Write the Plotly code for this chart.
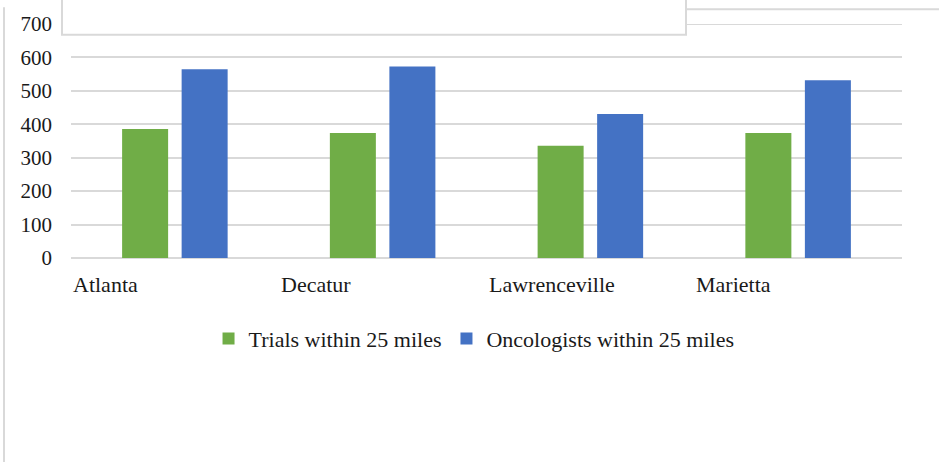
import plotly.graph_objects as go

categories = ["Atlanta", "Decatur", "Lawrenceville", "Marietta"]
trials = [386, 374, 336, 374]
oncologists = [565, 573, 431, 532]
series_names = ["Trials within 25 miles", "Oncologists within 25 miles"]
y_ticks = [0, 100, 200, 300, 400, 500, 600, 700]

W, H = 939, 462
ML, MR, MT, MB = 71, 37, 20, 204
PW, PH = W - ML - MR, H - MT - MB


def px(x):
    return (x - ML) / PW


def py(y):
    return (H - MB - y) / PH


FONT = "Liberation Serif, Times New Roman, DejaVu Serif, serif"
GRID = "#d9d9d9"
TXT = "#1a1a1a"

fig = go.Figure()
fig.add_trace(go.Bar(x=categories, y=trials, name=series_names[0],
                     marker=dict(color="#70ad47", line=dict(width=0))))
fig.add_trace(go.Bar(x=categories, y=oncologists, name=series_names[1],
                     marker=dict(color="#4472c4", line=dict(width=0))))

annotations = []
for i, c in enumerate(categories):
    annotations.append(dict(x=i - 0.5, y=py(285), xref="x", yref="paper",
                            text=c, showarrow=False, xanchor="left", yanchor="middle",
                            font=dict(family=FONT, size=22, color=TXT)))

shapes = [
    # top gridline at the axis maximum
    dict(type="line", xref="paper", yref="y", x0=0, x1=1, y0=y_ticks[-1], y1=y_ticks[-1],
         line=dict(color=GRID, width=2), layer="below"),
    dict(type="line", xref="paper", yref="paper", x0=px(4), x1=px(4), y0=py(3), y1=py(470),
         line=dict(color=GRID, width=2), layer="above"),
    dict(type="line", xref="paper", yref="paper", x0=px(686), x1=px(945), y0=py(5), y1=py(5),
         line=dict(color=GRID, width=2), layer="above"),
    dict(type="rect", xref="paper", yref="paper", x0=px(62), x1=px(686), y0=py(-10), y1=py(31),
         fillcolor="white", line=dict(color=GRID, width=2), layer="above"),
]

fig.update_layout(
    width=W, height=H,
    margin=dict(l=ML, r=MR, t=MT, b=MB, pad=0),
    paper_bgcolor="white", plot_bgcolor="white",
    barmode="group", bargap=0.427, bargroupgap=0.227,
    font=dict(family=FONT, size=21, color=TXT),
    showlegend=True,
    legend=dict(orientation="h", x=0.485, xanchor="center", y=py(340), yanchor="middle",
                font=dict(family=FONT, size=22, color=TXT),
                itemwidth=30, tracegroupgap=0, bgcolor="rgba(0,0,0,0)"),
    xaxis=dict(type="category", showticklabels=False, showgrid=False, zeroline=False,
               showline=False, ticks="", fixedrange=True),
    yaxis=dict(range=[0, 700], tickvals=y_ticks, showgrid=True, gridcolor=GRID, gridwidth=2,
               zeroline=True, zerolinecolor=GRID, zerolinewidth=2, showline=False, ticks="",
               ticklabelstandoff=18, tickfont=dict(family=FONT, size=21, color=TXT)),
    annotations=annotations,
    shapes=shapes,
)

fig.write_html("out.html", config={"displayModeBar": False},
               post_script="document.body.style.margin='0';document.body.style.overflow='hidden';")
